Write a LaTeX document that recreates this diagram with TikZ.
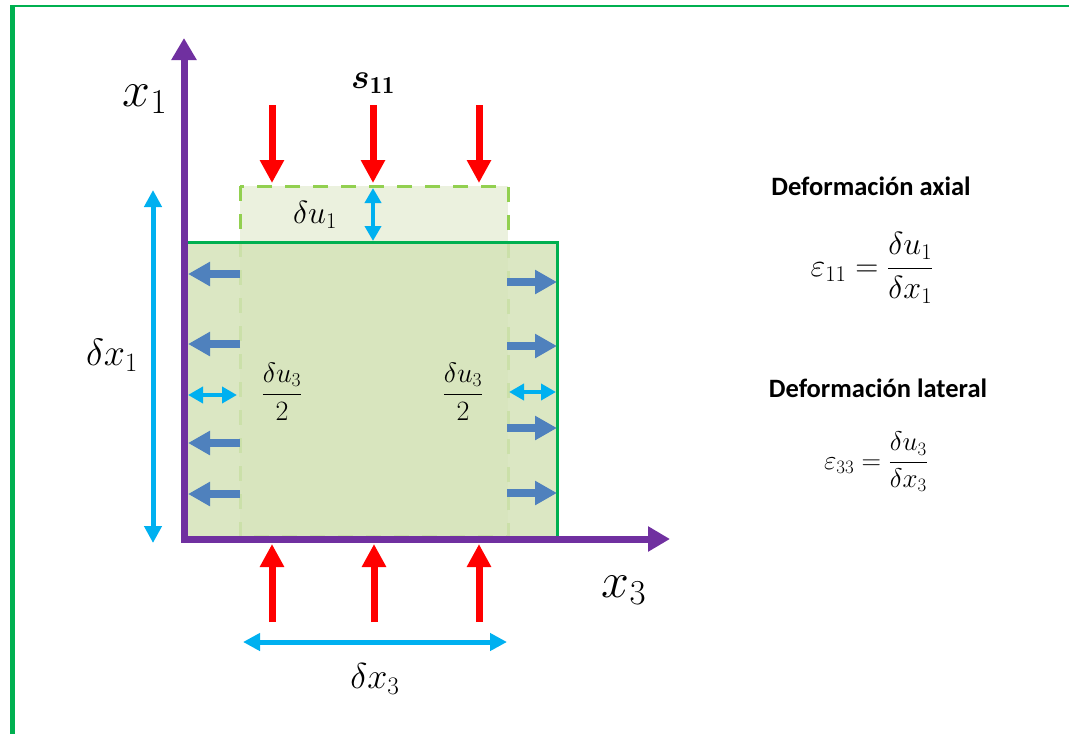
\RequirePackage{fix-cm}
\documentclass[tikz,border=0pt]{standalone}
\usepackage{amsmath,amsbsy}
\usepackage{fontspec}
\newfontfamily\calibri{Carlito}
\usetikzlibrary{arrows.meta}
\definecolor{framegreen}{HTML}{00B050}
\definecolor{axpurple}{HTML}{7030A0}
\definecolor{loadred}{HTML}{FF0000}
\definecolor{pushblue}{HTML}{4F81BD}
\definecolor{dimblue}{HTML}{00B0F0}
\definecolor{dashgreen}{HTML}{92D050}
\definecolor{ghostfill}{HTML}{EBF1DE}
\definecolor{mainfill}{HTML}{D5E3B9}
\tikzset{
  axisline/.style={draw=axpurple, line width=7pt, line join=miter,
    {Triangle[length=22pt,width=24pt]}-{Triangle[length=22pt,width=24pt]}},
  load/.style={draw=loadred, line width=7pt, -{Triangle[length=23pt,width=23pt]}},
  push/.style={draw=pushblue, line width=7.5pt, -{Triangle[length=22pt,width=23pt]}},
  dimarrow/.style={draw=dimblue, line width=5pt,
    {Triangle[length=17pt,width=17pt]}-{Triangle[length=17pt,width=17pt]}},
  smalldim/.style={draw=dimblue, line width=4.5pt,
    {Triangle[length=15pt,width=16pt]}-{Triangle[length=15pt,width=16pt]}},
  ghostbox/.style={draw=dashgreen, fill=ghostfill, line width=3pt, dash pattern=on 15pt off 13pt},
  lbl/.style={inner sep=0pt, text=black},
  heading/.style={inner sep=0pt, font=\calibri\bfseries\fontsize{26.5}{31}\selectfont},
}
\begin{document}
\begin{tikzpicture}[x=1pt,y=-1pt]
\useasboundingbox (0,0) rectangle (1069,734);
% frame
\draw[framegreen, line width=1.5pt] (10,6) -- (1069,6);
\fill[framegreen] (10,5) rectangle (14.5,734);
% ghost (original) block
\draw[ghostbox] (240,186) rectangle (508,536);
% deformed block
\fill[mainfill, opacity=0.85] (187,242) rectangle (557,536);
\draw[framegreen, line width=3pt] (187,242) -- (557,242) -- (557,536);
% axes
\coordinate (ax1) at (184,38);
\coordinate (ax0) at (184,539);
\coordinate (ax3) at (670,539);
\draw[axisline] (ax1) -- (ax0) -- (ax3);
% loads
\foreach \n/\x in {a/272,b/373,c/479}{
  \coordinate (tt\n) at (\x,105);
  \coordinate (th\n) at (\x,183);
  \draw[load] (tt\n) -- (th\n);
}
\foreach \n/\x in {a/272,b/374,c/479}{
  \coordinate (bt\n) at (\x,622);
  \coordinate (bh\n) at (\x,544);
  \draw[load] (bt\n) -- (bh\n);
}
% lateral expansion arrows
\foreach \n/\y in {a/274,b/344,c/443,d/494}{
  \coordinate (lt\n) at (240,\y);
  \coordinate (lh\n) at (188,\y);
  \draw[push] (lt\n) -- (lh\n);
}
\foreach \n/\y in {a/282,b/346,c/428,d/493}{
  \coordinate (rt\n) at (507,\y);
  \coordinate (rh\n) at (557,\y);
  \draw[push] (rt\n) -- (rh\n);
}
% dimension arrows
\coordinate (dl0) at (188,395); \coordinate (dl1) at (237,395);
\draw[smalldim] (dl0) -- (dl1);
\coordinate (dr0) at (509,392); \coordinate (dr1) at (556,392);
\draw[smalldim] (dr0) -- (dr1);
\coordinate (du0) at (373,188); \coordinate (du1) at (373,241);
\draw[smalldim] (du0) -- (du1);
\coordinate (dx10) at (153,190); \coordinate (dx11) at (153,543);
\draw[dimarrow] (dx10) -- (dx11);
\coordinate (dx30) at (243,642); \coordinate (dx31) at (507,642);
\draw[dimarrow] (dx30) -- (dx31);
% labels
\node[lbl, font=\fontsize{50}{60}\selectfont] (lx1) at (145,99) {$x_1$};
\node[lbl, font=\fontsize{50}{60}\selectfont] (lx3) at (624,590) {$x_3$};
\node[lbl, font=\fontsize{35}{42}\selectfont] (ls) at (373,83) {$\boldsymbol{s}_{\mathbf{11}}$};
\node[lbl, font=\fontsize{32}{38}\selectfont] (ldu1) at (315,215) {$\delta u_1$};
\node[lbl, font=\fontsize{38}{45}\selectfont] (ldx1) at (112,355) {$\delta x_1$};
\node[lbl, font=\fontsize{36}{43}\selectfont] (ldx3) at (375,679) {$\delta x_3$};
\node[lbl, font=\fontsize{28}{34}\selectfont] (lfl) at (282,392) {$\dfrac{\delta u_3}{2}$};
\node[lbl, font=\fontsize{28}{34}\selectfont] (lfr) at (463,392) {$\dfrac{\delta u_3}{2}$};
% right panel
\node[heading] (h1) at (871,186) {Deformación axial};
\node[lbl, font=\fontsize{32}{38}\selectfont] (e11) at (872,268) {$\varepsilon_{11} = \dfrac{\delta u_1}{\delta x_1}$};
\node[heading] (h2) at (878,388) {Deformación lateral};
\node[lbl, font=\fontsize{27}{32}\selectfont] (e33) at (876,462) {$\varepsilon_{33} = \dfrac{\delta u_3}{\delta x_3}$};
\end{tikzpicture}
\end{document}
